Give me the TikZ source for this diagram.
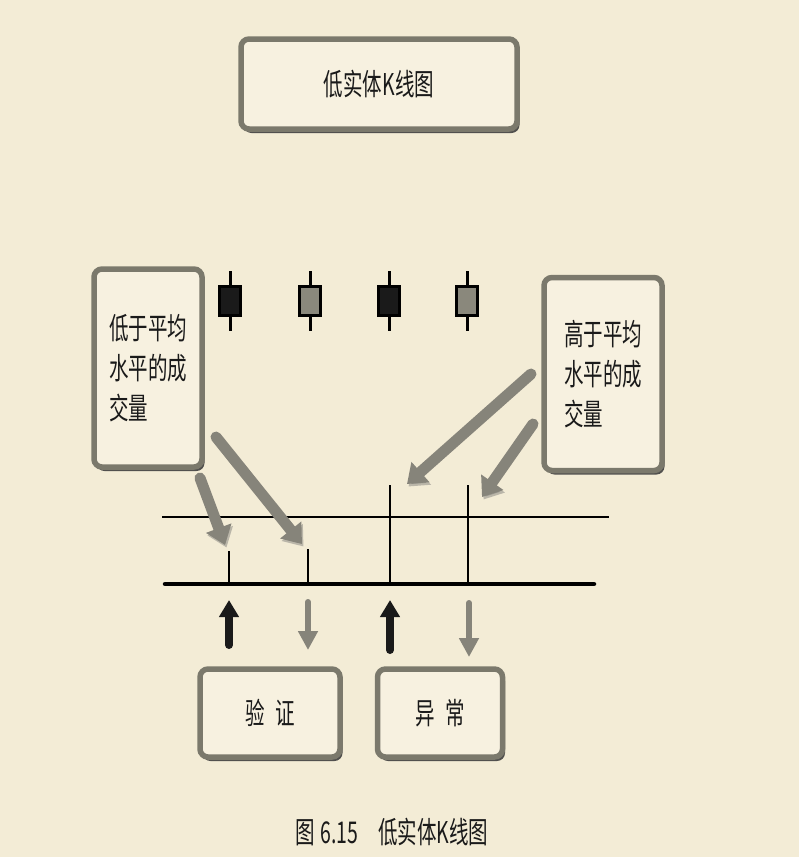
\documentclass[tikz,border=0pt]{standalone}
\usepackage{fontspec}
\setmainfont{Noto Sans CJK SC}[FakeStretch=0.65]
\usetikzlibrary{arrows.meta,shadows}
\definecolor{Cream}{HTML}{F3ECD6}
\definecolor{BoxFill}{HTML}{F7F1E0}
\definecolor{BoxGray}{HTML}{7B796C}
\definecolor{ArrowGray}{HTML}{86847A}
\definecolor{CandleGray}{HTML}{8A887C}
\definecolor{Ink}{HTML}{1A1A1A}

\begin{document}
\begin{tikzpicture}[x=1pt, y=-1pt,
    every node/.style={font=\fontsize{30}{40}\selectfont, text=Ink},
    labelbox/.style={draw=BoxGray, fill=BoxFill, line width=5.5pt, rounded corners=8pt,
        drop shadow={shadow xshift=2.5pt, shadow yshift=-4pt, fill=black!75, opacity=0.9}},
    candle/.style={draw=black, line width=3pt, minimum width=21pt, minimum height=29pt, inner sep=0pt},
    bigarrow/.style={ArrowGray, line width=11pt, line cap=round, -{Triangle[length=18pt,width=26pt]},
        preaction={draw=black!60, opacity=0.4, transform canvas={shift={(1.5pt,-2.5pt)}}}},
    uparrow/.style={Ink, line width=8pt, line cap=round, -{Triangle[length=17pt,width=19pt]}},
    downarrow/.style={ArrowGray, line width=6pt, line cap=round, -{Triangle[length=19pt,width=19pt]}}
]
    % Background
    \fill[Cream] (0,0) rectangle (799,857);

    % Title
    \node[labelbox, minimum width=276pt, minimum height=90pt] (title) at (379,84) {低实体K线图};

    % Candles with wicks
    \foreach \cx/\cfill [count=\i] in {230/Ink, 310/CandleGray, 389/Ink, 467/CandleGray} {
        \node[candle, fill=\cfill] (candle\i) at (\cx,301) {};
        \draw[line width=3pt] (candle\i.north) -- ++(0,-14);
        \draw[line width=3pt] (candle\i.south) -- ++(0,14);
    }

    % Average volume line and base line
    \draw[line width=2pt] (162,517) -- (609,517);
    \draw[line width=4.5pt, line cap=round] (165,584) -- (594,584);

    % Volume bars
    \foreach \bx/\by in {229/551, 308/549, 390/485, 468/485}
        \draw[line width=2.5pt] (\bx,584) -- (\bx,\by);

    % Pointers from the volume boxes
    \coordinate (lowtail1) at (200,478);
    \coordinate (lowtip1) at (225,545);
    \coordinate (lowtail2) at (216,437);
    \coordinate (lowtip2) at (302,544);
    \coordinate (hightail1) at (531,374);
    \coordinate (hightip1) at (407,484);
    \coordinate (hightail2) at (533,424);
    \coordinate (hightip2) at (482,497);
    \draw[bigarrow] (lowtail1) -- (lowtip1);
    \draw[bigarrow] (lowtail2) -- (lowtip2);
    \draw[bigarrow] (hightail1) -- (hightip1);
    \draw[bigarrow] (hightail2) -- (hightip2);

    % Volume boxes
    \node[labelbox, minimum width=108pt, minimum height=198pt, align=left] (lowvol) at (148,368) {低于平均\\水平的成\\交量};
    \node[labelbox, minimum width=118pt, minimum height=193pt, align=left] (highvol) at (603,374) {高于平均\\水平的成\\交量};

    % Up and down moves
    \coordinate (up1s) at (229,645);
    \coordinate (up1e) at (229,600);
    \coordinate (down1s) at (308,602);
    \coordinate (down1e) at (308,650);
    \coordinate (up2s) at (390,650);
    \coordinate (up2e) at (390,600);
    \coordinate (down2s) at (469,603);
    \coordinate (down2e) at (469,657);
    \draw[uparrow] (up1s) -- (up1e);
    \draw[downarrow] (down1s) -- (down1e);
    \draw[uparrow] (up2s) -- (up2e);
    \draw[downarrow] (down2s) -- (down2e);

    % Result boxes
    \node[labelbox, minimum width=140pt, minimum height=88pt] (verify) at (270,713) {验\hspace{11pt}证};
    \node[labelbox, minimum width=125pt, minimum height=88pt] (abnormal) at (440,713) {异\hspace{11pt}常};

    % Caption
    \node (caption) at (392,832) {图\hspace{5pt}6.15\hspace{20pt}低实体K线图};
\end{tikzpicture}
\end{document}
